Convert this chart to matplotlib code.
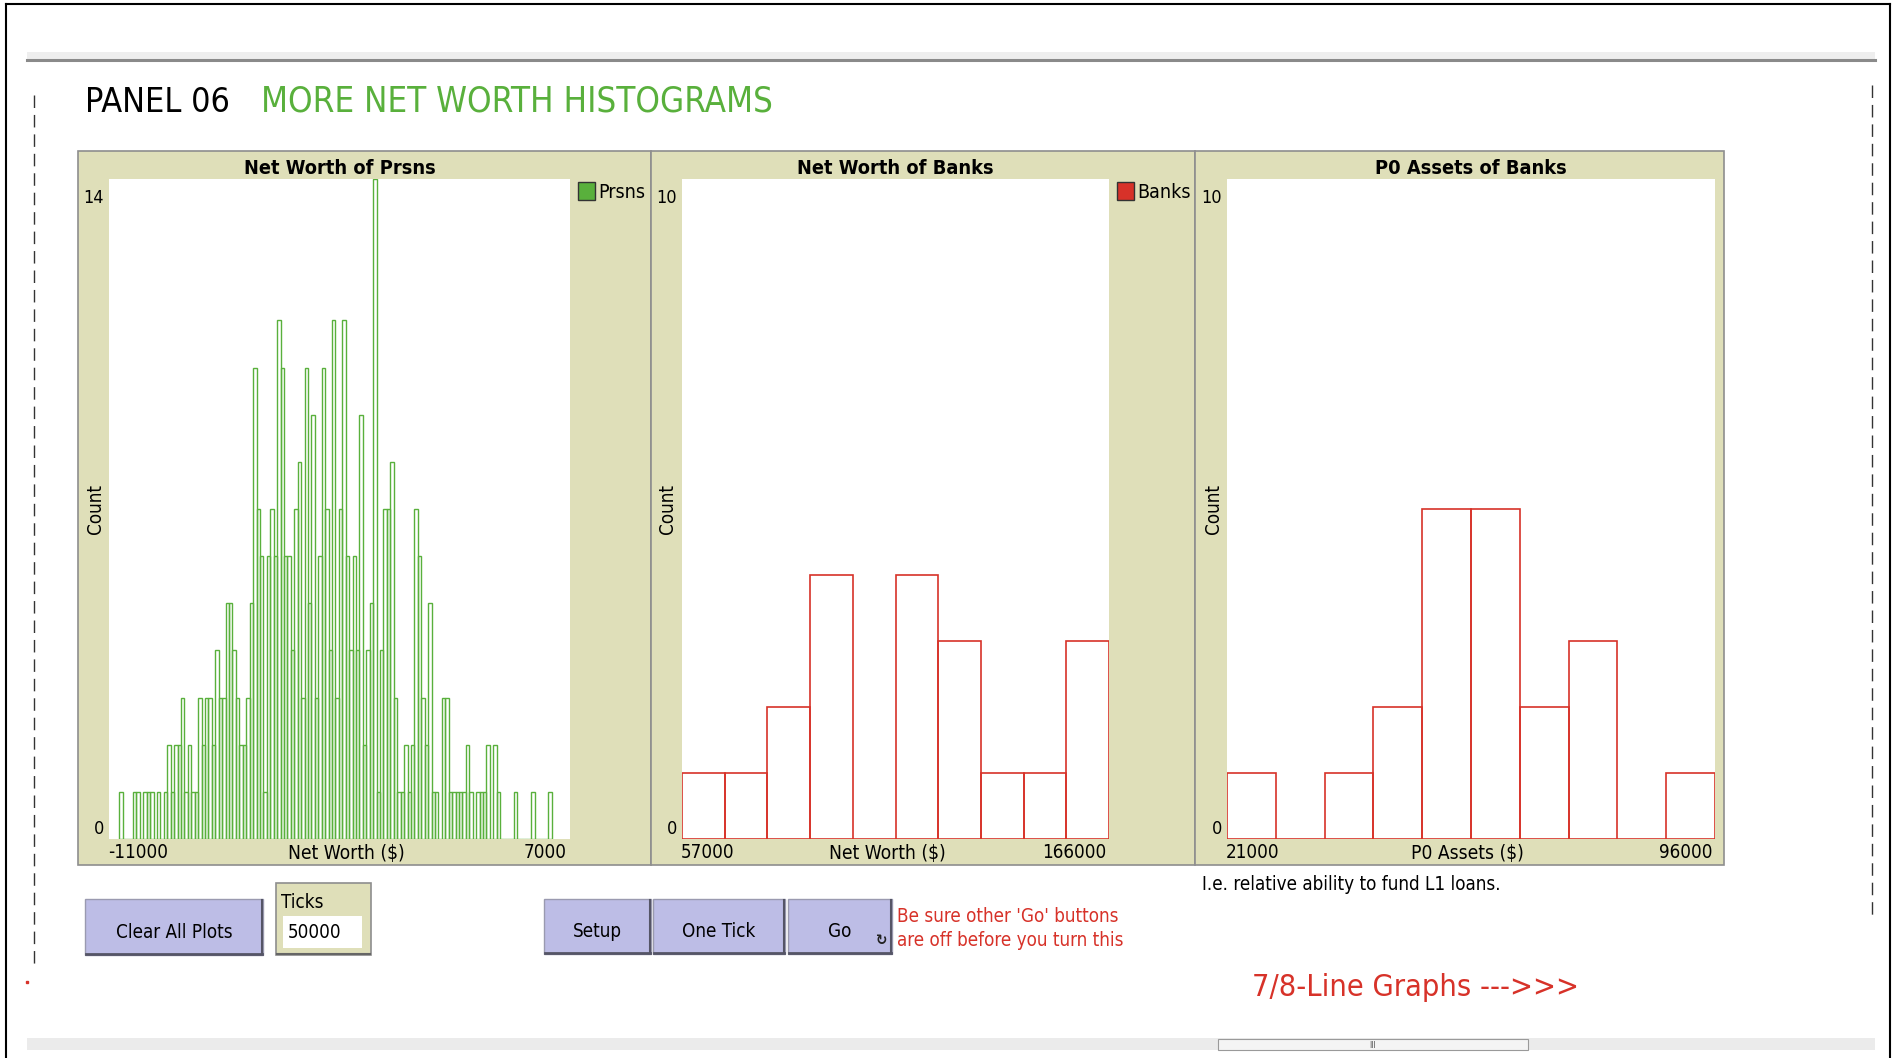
import numpy as np
import matplotlib.pyplot as plt
from matplotlib import font_manager
from matplotlib.patches import Rectangle

# ---- data ----
# Net Worth of Prsns: 126 bins, first bin starts at -10600, bin width 134
prsn_counts = [1, 0, 0, 0, 1, 1, 0, 1, 1, 1,
               0, 1, 0, 1, 2, 1, 2, 2, 3, 1,
               2, 1, 1, 3, 2, 3, 3, 2, 4, 3,
               3, 5, 5, 4, 3, 2, 2, 3, 5, 10,
               7, 6, 1, 6, 7, 6, 11, 10, 6, 6,
               4, 7, 8, 3, 10, 5, 9, 3, 6, 10,
               7, 4, 11, 3, 7, 11, 6, 4, 6, 4,
               9, 2, 4, 5, 14, 1, 4, 7, 7, 8,
               3, 1, 1, 2, 1, 2, 7, 6, 3, 2,
               5, 1, 1, 0, 3, 3, 1, 1, 1, 1,
               1, 2, 1, 0, 1, 1, 1, 2, 0, 2,
               1, 0, 0, 0, 0, 1, 0, 0, 0, 0,
               1, 0, 0, 0, 0, 1]
prsn_start, prsn_width = -10600, 134
prsn_xlim = (-11000, 7000)
prsn_ymax = 14

# Net Worth of Banks: 10 bins over 57000..166000
bank_counts = [1, 1, 2, 4, 0, 4, 3, 1, 1, 3]
bank_xlim = (57000, 166000)
bank_ymax = 10

# P0 Assets of Banks: 10 bins over 21000..96000
p0_counts = [1, 0, 1, 2, 5, 5, 2, 3, 0, 1]
p0_xlim = (21000, 96000)
p0_ymax = 10

GREEN = '#59B03C'
RED = '#D73229'
BEIGE = '#DFDFB9'
LAV = '#BDBDE6'

# the screenshot uses a condensed sans; use DejaVu Sans Condensed if it is there,
# otherwise shrink the normal DejaVu a bit so the widths match
fonts = font_manager.fontManager.ttflist
has_cond = any(f.name == 'DejaVu Sans' and f.stretch == 'condensed' for f in fonts)
plt.rcParams['font.family'] = ['DejaVu Sans']
if has_cond:
    plt.rcParams['font.stretch'] = 'condensed'
    K = 1.0
else:
    K = 0.9

W, H = 1900, 1058
fig = plt.figure(figsize=(W / 100, H / 100), dpi=100)
bg = fig.add_axes([0, 0, 1, 1])
bg.set_xlim(0, W)
bg.set_ylim(H, 0)
bg.axis('off')


def rect(x0, y0, x1, y1, **kw):
    bg.add_patch(Rectangle((x0, y0), x1 - x0, y1 - y0, **kw))


def px_axes(x0, y0, x1, y1):
    return fig.add_axes([x0 / W, 1 - y1 / H, (x1 - x0) / W, (y1 - y0) / H])


def txt(x, y, s, size, **kw):
    return bg.text(x, y, s, fontsize=size * K, **kw)


# outer frame and interface bars
bg.plot([6, 6], [4, H], color='black', lw=1.5)
bg.plot([6, 1890], [4, 4], color='black', lw=1.5)
bg.plot([1890, 1890], [4, H], color='black', lw=1.5)
rect(27, 52, 1875, 59, facecolor='#EEEEEE', edgecolor='none')
bg.plot([27, 1875], [60, 60], color='#8A8A8A', lw=2.2)
rect(27, 1038, 1875, 1050, facecolor='#EBEBEB', edgecolor='none')
rect(1218, 1039, 1528, 1050, facecolor='#F4F4F4', edgecolor='#9A9A9A', lw=0.8)
bg.text(1373, 1046, 'III', fontsize=6, ha='center', va='center', color='#555555')
bg.plot([34, 34], [95, 965], color='#333333', lw=1, dashes=(9, 5))
bg.plot([1872, 1872], [85, 915], color='#333333', lw=1, dashes=(9, 5))
bg.plot([27], [982], marker='s', ms=1.5, color=RED)

# panel title
txt(85, 112, 'PANEL 06', 24.5, color='black', va='baseline')
txt(261, 112, 'MORE NET WORTH HISTOGRAMS', 25, color=GREEN, va='baseline')

# plot frames
frames = [
    dict(box=(78, 151, 651, 865), plot=(109, 179, 570, 839), title='Net Worth of Prsns',
         xlabel='Net Worth ($)', xlab_x=346, xlim=prsn_xlim, ymax=prsn_ymax,
         legend=('Prsns', GREEN)),
    dict(box=(651, 151, 1195, 865), plot=(682, 179, 1109, 839), title='Net Worth of Banks',
         xlabel='Net Worth ($)', xlab_x=887, xlim=bank_xlim, ymax=bank_ymax,
         legend=('Banks', RED)),
    dict(box=(1195, 151, 1724, 865), plot=(1227, 179, 1715, 839), title='P0 Assets of Banks',
         xlabel='P0 Assets ($)', xlab_x=1467, xlim=p0_xlim, ymax=p0_ymax, legend=None),
]
axes = []
for fr in frames:
    x0, y0, x1, y1 = fr['box']
    px0, py0, px1, py1 = fr['plot']
    rect(x0, y0, x1, y1, facecolor=BEIGE, edgecolor='#8E8E8E', lw=1.2)
    txt((px0 + px1) / 2, 169, fr['title'], 14.3, fontweight='bold',
        ha='center', va='center')
    txt(px0 - 5, py0 + 19, str(fr['ymax']), 13, ha='right', va='center')
    txt(px0 - 5, py1 - 10, '0', 13, ha='right', va='center')
    txt(px0 - 14, (py0 + py1) / 2, 'Count', 13.5, rotation=90,
        ha='center', va='center')
    txt(px0 - 1, 853, f"{fr['xlim'][0]}", 13.5, ha='left', va='center')
    txt(px1 - 3, 853, f"{fr['xlim'][1]}", 13.5, ha='right', va='center')
    txt(fr['xlab_x'], 853, fr['xlabel'], 13.8, ha='center', va='center')
    if fr['legend']:
        lab, col = fr['legend']
        rect(px1 + 8, 182, px1 + 25, 200, facecolor=col, edgecolor='#333333', lw=1)
        txt(px1 + 28, 192, lab, 14, ha='left', va='center')
    ax = px_axes(px0, py0, px1, py1)
    ax.set_xlim(*fr['xlim'])
    ax.set_ylim(0, fr['ymax'])
    ax.set_facecolor('white')
    ax.set_xticks([])
    ax.set_yticks([])
    for s in ax.spines.values():
        s.set_visible(False)
    axes.append(ax)

# histogram bars (outlined, NetLogo style)
prsn_left = prsn_start + prsn_width * np.arange(len(prsn_counts))
axes[0].bar(prsn_left, prsn_counts, width=prsn_width, align='edge', fill=False,
            edgecolor=GREEN, linewidth=1.0)

bank_edges = np.linspace(bank_xlim[0], bank_xlim[1], len(bank_counts) + 1)
axes[1].bar(bank_edges[:-1], bank_counts, width=np.diff(bank_edges), align='edge',
            fill=False, edgecolor=RED, linewidth=1.2)

p0_edges = np.linspace(p0_xlim[0], p0_xlim[1], len(p0_counts) + 1)
axes[2].bar(p0_edges[:-1], p0_counts, width=np.diff(p0_edges), align='edge',
            fill=False, edgecolor=RED, linewidth=1.2)

txt(1202, 885, 'I.e. relative ability to fund L1 loans.', 13.5, ha='left', va='center')


# buttons
def button(x0, y0, x1, y1, label):
    rect(x0, y0, x1, y1, facecolor=LAV, edgecolor='#9A9AB0', lw=1)
    bg.plot([x0 + 1, x1 - 1], [y1 - 1, y1 - 1], color='#555566', lw=2)
    bg.plot([x1 - 1, x1 - 1], [y0 + 1, y1 - 1], color='#555566', lw=1.5)
    txt((x0 + x1) / 2, (y0 + y1) / 2 + 5, label, 13.5, ha='center', va='center')


button(85, 899, 263, 955, 'Clear All Plots')
button(544, 899, 651, 954, 'Setup')
button(653, 899, 785, 954, 'One Tick')
button(788, 899, 892, 954, 'Go')
bg.text(881, 941, '\u21bb', fontsize=11, ha='center', va='center', fontweight='bold',
        family='DejaVu Sans', color='#222222')

# ticks input box
rect(276, 883, 371, 955, facecolor=BEIGE, edgecolor='#8E8E8E', lw=1.2)
bg.plot([277, 370], [954, 954], color='#666666', lw=1.5)
txt(281, 902, 'Ticks', 13.5, ha='left', va='center')
rect(283, 916, 362, 948, facecolor='white', edgecolor='none')
txt(288, 933, '50000', 13.5, ha='left', va='center')

txt(897, 916, "Be sure other 'Go' buttons", 13.5, color=RED, ha='left', va='center')
txt(897, 940, 'are off before you turn this', 13.5, color=RED, ha='left', va='center')

txt(1252, 987, '7/8-Line Graphs --->>>', 22, color=RED, ha='left', va='center')

fig.savefig('out.png', dpi=100)
